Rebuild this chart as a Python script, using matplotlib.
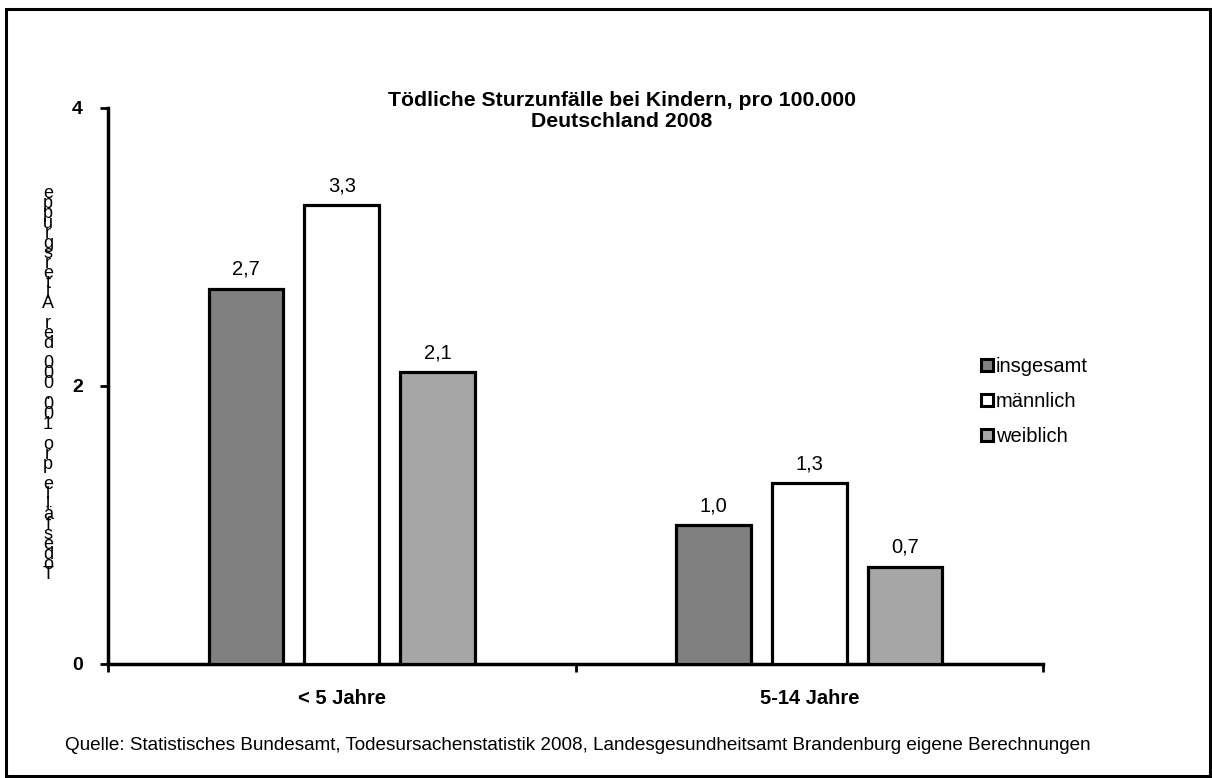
import matplotlib
matplotlib.use("Agg")
import matplotlib.pyplot as plt
from matplotlib.patches import Rectangle
from matplotlib.lines import Line2D
import numpy as np

plt.rcParams['font.family'] = ['Liberation Sans', 'DejaVu Sans']

categories = ["< 5 Jahre", "5-14 Jahre"]
series = ["insgesamt", "männlich", "weiblich"]
values = {
    "insgesamt": [2.7, 1.0],
    "männlich": [3.3, 1.3],
    "weiblich": [2.1, 0.7],
}
value_labels = {
    "insgesamt": ["2,7", "1,0"],
    "männlich": ["3,3", "1,3"],
    "weiblich": ["2,1", "0,7"],
}
colors = {"insgesamt": "#808080", "männlich": "#FFFFFF", "weiblich": "#A6A6A6"}
yticks = [0, 2, 4]
title = "Tödliche Sturzunfälle bei Kindern, pro 100.000\nDeutschland 2008"
ylabel = "Todesfälle pro 100.000 der Altersgruppe"
source = "Quelle: Statistisches Bundesamt, Todesursachenstatistik 2008, Landesgesundheitsamt Brandenburg eigene Berechnungen"

W, H = 1212, 778
fig = plt.figure(figsize=(W / 100, H / 100), dpi=100)

# outer frame
fig.add_artist(Rectangle((6 / W, 1 - 776 / H), 1204 / W, 767 / H, transform=fig.transFigure,
                         fill=False, edgecolor="black", linewidth=2.2))

ax = fig.add_axes([108 / W, 1 - 664 / H, (1043 - 108) / W, (664 - 108) / H])
x = np.arange(len(categories))
offsets = [-0.205, 0.0, 0.205]
bw = 0.16
for s, off in zip(series, offsets):
    ax.bar(x + off, values[s], width=bw, color=colors[s], edgecolor="black",
           linewidth=2.3, label=s, zorder=3)
    for xi, v, lab in zip(x + off, values[s], value_labels[s]):
        ax.text(xi, v + 0.07, lab, ha="center", va="bottom", fontsize=14.5)

ax.set_xlim(-0.5, 1.5)
ax.set_ylim(0, 4)
ax.set_yticks(yticks)
ax.set_yticklabels([str(t) for t in yticks], fontweight="bold", fontsize=14)
ax.set_xticks([-0.5, 0.5, 1.5])
ax.set_xticklabels([])
ax.set_xticks(x, minor=True)
ax.set_xticklabels(categories, minor=True, fontweight="bold", fontsize=14.5)
ax.tick_params(axis="x", which="major", direction="out", length=6, width=2)
ax.tick_params(axis="x", which="minor", length=0, pad=18)
ax.tick_params(axis="y", direction="out", length=6, width=2, pad=12)
for sp in ["top", "right"]:
    ax.spines[sp].set_visible(False)
for sp in ["left", "bottom"]:
    ax.spines[sp].set_linewidth(2.5)

fig.text(622 / W, 1 - 111 / H, title, ha="center", va="center", fontweight="bold",
         fontsize=15.3, linespacing=1.12)

# stacked y label (characters upright, reading bottom to top), as one text
stacked = "\n".join(reversed(list(ylabel)))
fig.text(48 / W, 1 - 384 / H, stacked, ha="center", va="center", fontsize=13,
         linespacing=0.465, multialignment="center")

# legend
handles = [Line2D([], [], marker="s", linestyle="none", markersize=8.5,
                  markerfacecolor=colors[s], markeredgecolor="black", markeredgewidth=2.2)
           for s in series]
fig.legend(handles, series, loc="upper left", bbox_to_anchor=(981 / W, 1 - 357 / H),
           frameon=False, fontsize=14.5, handlelength=0.6, handletextpad=0.15,
           labelspacing=0.8, borderaxespad=0, borderpad=0)

fig.text(65 / W, 1 - 746 / H, source, ha="left", va="center", fontsize=13.6)

fig.savefig("out.png", dpi=100)
